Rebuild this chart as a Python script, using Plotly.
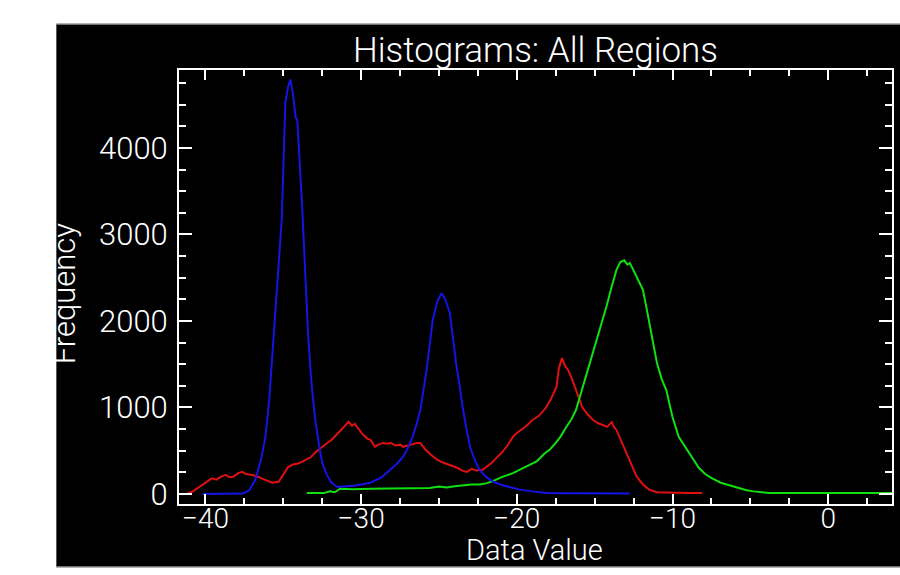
import plotly.graph_objects as go

# ---- data ----
blue_x = [-40.2, -39.5, -38.5, -37.6, -37.2, -36.8, -36.4, -36.15, -35.9, -35.7, -35.4, -35.1,
          -34.87, -34.7, -34.55, -34.4, -34.2, -34.1, -33.8, -33.6, -33.4, -33.2, -32.95, -32.7,
          -32.5, -32.2, -31.9, -31.5, -31.0, -30.5, -30.0, -29.4, -28.7, -28.1, -27.7, -27.3,
          -27.0, -26.7, -26.45, -26.2, -26.0, -25.8, -25.6, -25.4, -25.1, -24.83, -24.6, -24.3,
          -24.1, -23.9, -23.65, -23.45, -23.2, -23.0, -22.7, -22.4, -22.0, -21.5, -20.8, -20.25,
          -19.8, -19.0, -18.1, -17.0, -15.0, -12.75]
blue_y = [0, 0, 0, 5, 40, 160, 420, 660, 1100, 1630, 2400, 3170,
          4520, 4700, 4790, 4650, 4350, 4320, 3360, 2600, 1820, 1300, 855, 560,
          360, 220, 130, 80, 85, 95, 110, 130, 190, 280, 350, 430,
          530, 660, 800, 970, 1180, 1430, 1720, 2010, 2230, 2320, 2250, 2090,
          1800, 1510, 1220, 970, 720, 540, 390, 280, 200, 140, 95, 70,
          50, 30, 12, 8, 5, 5]

red_x = [-41.67, -41.2, -40.85, -40.5, -40.3, -40.0, -39.6, -39.3, -39.0, -38.7, -38.5, -38.2,
         -37.9, -37.65, -37.4, -37.0, -36.7, -36.4, -36.0, -35.7, -35.3, -35.0, -34.7, -34.4,
         -34.1, -33.8, -33.5, -33.2, -32.95, -32.75, -32.4, -32.1, -31.9, -31.6, -31.3, -31.0,
         -30.8, -30.6, -30.4, -30.2, -29.9, -29.6, -29.4, -29.1, -28.9, -28.6, -28.3, -28.1,
         -27.8, -27.5, -27.3, -27.0, -26.7, -26.4, -26.2, -25.9, -25.5, -25.1, -24.7, -24.4,
         -24.1, -23.8, -23.5, -23.2, -22.9, -22.6, -22.2, -21.9, -21.6, -21.3, -21.0, -20.6,
         -20.25, -20.0, -19.6, -19.3, -19.0, -18.6, -18.3, -18.1, -17.8, -17.6, -17.45, -17.3,
         -17.1, -16.9, -16.7, -16.5, -16.2, -16.0, -15.8, -15.5, -15.1, -14.8, -14.5, -14.2,
         -13.9, -13.75, -13.6, -13.3, -12.95, -12.6, -12.3, -11.9, -11.5, -11.0, -10.0, -9.0, -8.1]
red_y = [0, 0, 25, 70, 100, 130, 180, 165, 200, 220, 195, 200,
         240, 255, 230, 220, 205, 180, 150, 130, 140, 220, 310, 340,
         350, 370, 400, 430, 480, 510, 560, 600, 625, 680, 740, 800,
         835, 790, 810, 760, 690, 640, 625, 545, 570, 590, 580, 590,
         560, 570, 545, 560, 575, 590, 590, 520, 450, 395, 360, 340,
         315, 300, 270, 255, 290, 270, 280, 320, 360, 420, 470, 560,
         660, 705, 760, 800, 855, 900, 960, 1005, 1100, 1180, 1240, 1450,
         1570, 1480, 1430, 1350, 1200, 1080, 1005, 930, 855, 820, 800, 775,
         830, 770, 740, 620, 470, 320, 200, 110, 50, 20, 12, 12, 12]

green_x = [-33.5, -32.4, -32.0, -31.7, -31.35, -30.5, -29.4, -28.0, -26.5, -25.6, -25.0, -24.5,
           -24.0, -23.45, -22.9, -22.4, -21.9, -21.4, -20.9, -20.25, -19.8, -19.3, -18.7, -18.2,
           -17.9, -17.5, -17.2, -16.8, -16.5, -16.2, -15.9, -15.5, -15.2, -14.9, -14.6, -14.25,
           -13.9, -13.6, -13.35, -13.1, -12.9, -12.75, -12.6, -12.3, -11.9, -11.7, -11.5, -11.25,
           -11.0, -10.7, -10.4, -10.2, -10.0, -9.6, -9.35, -8.9, -8.5, -8.3, -7.9, -7.45,
           -6.9, -6.35, -5.8, -5.3, -4.8, -4.3, -3.8, -2.0, 0.0, 2.0, 4.1]
green_y = [10, 10, 30, 20, 60, 55, 60, 65, 65, 70, 85, 75,
           90, 100, 110, 110, 125, 160, 200, 240, 280, 320, 380, 470,
           510, 590, 660, 780, 860, 970, 1150, 1400, 1600, 1780, 1960, 2160,
           2400, 2590, 2680, 2700, 2650, 2670, 2620, 2500, 2360, 2180, 1975, 1750,
           1515, 1330, 1200, 1030, 890, 660, 590, 470, 360, 300, 230, 180,
           130, 100, 70, 45, 30, 20, 10, 10, 10, 10, 10]

x_ticks = [-40, -30, -20, -10, 0]
y_ticks = [0, 1000, 2000, 3000, 4000]

FONT = "Roboto"

fig = go.Figure()
for xs, ys, col in [(red_x, red_y, "#e01010"), (green_x, green_y, "#10e010"), (blue_x, blue_y, "#1414e6")]:
    fig.add_trace(go.Scatter(x=xs, y=ys, mode="lines", line=dict(color=col, width=2),
                             hoverinfo="skip", showlegend=False))

axis_common = dict(showgrid=False, zeroline=False, showline=True, linecolor="white", linewidth=2,
                   mirror="allticks", ticks="inside", tickcolor="white", tickwidth=1.5)

fig.update_xaxes(range=[-41.7, 4.1], tickvals=x_ticks, ticklen=10, ticklabelstandoff=-12,
                 tickfont=dict(family=FONT, size=28, color="white", weight=300),
                 minor=dict(dtick=2.5, tick0=0, ticks="inside", ticklen=6, tickcolor="white", tickwidth=1.5),
                 **axis_common)
fig.update_yaxes(range=[-116, 4900], tickvals=y_ticks, ticklen=13, ticklabelstandoff=3,
                 tickfont=dict(family=FONT, size=31, color="white", weight=300),
                 minor=dict(dtick=250, tick0=0, ticks="inside", ticklen=7, tickcolor="white", tickwidth=1.5),
                 **axis_common)

fig.update_layout(
    width=900, height=575,
    margin=dict(l=179, r=6, t=70, b=71),
    paper_bgcolor="white", plot_bgcolor="black",
    title=dict(text="Histograms: All Regions", x=0.595, xanchor="center", y=1 - 50 / 575,
               yanchor="middle", font=dict(family=FONT, size=35, color="white", weight=300)),
    shapes=[
        dict(type="rect", xref="paper", yref="paper", x0=(56 - 179) / 715, x1=1.05,
             y0=(504 - 567) / 434, y1=(504 - 24) / 434, fillcolor="black",
             line=dict(width=0), layer="below"),
        dict(type="line", xref="paper", yref="paper", x0=(56 - 179) / 715, x1=1.05,
             y0=(504 - 24) / 434, y1=(504 - 24) / 434, line=dict(color="#999", width=1.5), layer="below"),
        dict(type="line", xref="paper", yref="paper", x0=(56 - 179) / 715, x1=1.05,
             y0=(504 - 567) / 434, y1=(504 - 567) / 434, line=dict(color="#999", width=1.5), layer="below"),
    ],
    annotations=[
        dict(text="Data Value", xref="paper", yref="paper", x=(535 - 179) / 715, y=(504 - 550) / 434,
             xanchor="center", yanchor="middle", showarrow=False,
             font=dict(family=FONT, size=29, color="white", weight=300)),
        dict(text="Frequency", xref="paper", yref="paper", x=(64 - 179) / 715, y=(504 - 293) / 434,
             xanchor="center", yanchor="middle", showarrow=False, textangle=-90,
             font=dict(family=FONT, size=31, color="white", weight=300)),
    ],
)

fig.write_html("out.html", config={"displayModeBar": False},
               post_script="document.body.style.margin='0';")
